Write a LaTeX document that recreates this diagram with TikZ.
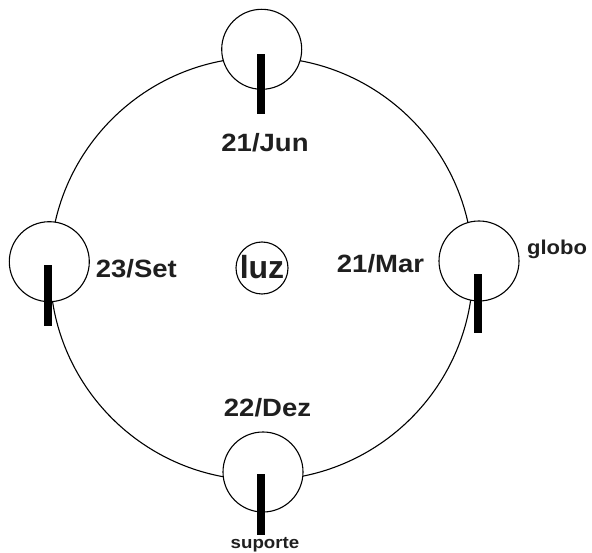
\documentclass[tikz,border=0pt]{standalone}
\usepackage{fontspec}
\setmainfont{Liberation Sans}
\begin{document}
\begin{tikzpicture}[x=1pt,y=-1pt,
  globe/.style={circle,draw=black,line width=1.1pt,fill=white,minimum size=80pt,inner sep=0pt},
  axis/.style={rectangle,fill=black,minimum width=8pt,minimum height=60pt,inner sep=0pt},
  date/.style={anchor=base,inner sep=0pt,xscale=1.1,font=\fontsize{25}{30}\selectfont\bfseries,text=black!88}
]
\fill[white] (0,0) rectangle (592,553);
\useasboundingbox (0,0) rectangle (592,553);
% orbit
\node[circle,draw=black,line width=1.1pt,minimum size=423pt,inner sep=0pt] (orbit) at (261.5,268.7) {};
% light
\node[circle,draw=black,line width=1.1pt,minimum size=52pt,inner sep=0pt] (sun) at (262,268) {};
\node[anchor=base,inner sep=0pt,font=\fontsize{32}{36}\selectfont\bfseries,text=black!88] (luz) at (262,278.3) {luz};
% globes
\node[globe] (jun) at (261.7,49.3) {};
\node[globe] (set) at (49.3,261.7) {};
\node[globe] (mar) at (479,261) {};
\node[globe] (dez) at (263,472) {};
% axes
\node[axis] (jax) at (261.2,84) {};
\node[axis,minimum height=61pt] (sax) at (47.5,295.5) {};
\node[axis,minimum height=59pt] (max) at (478.3,303.5) {};
\node[axis,minimum height=61pt] (dax) at (261.2,504.5) {};
% labels
\node[date] (ljun) at (265,151.7) {21/Jun};
\node[date] (lset) at (136.3,277.3) {23/Set};
\node[date] (lmar) at (380.5,272.7) {21/Mar};
\node[date] (ldez) at (267.5,416.7) {22/Dez};
\node[anchor=base,inner sep=0pt,xscale=1.1,font=\fontsize{20}{24}\selectfont\bfseries,text=black!88] (globo) at (557,255) {globo};
\node[anchor=base,inner sep=0pt,xscale=1.1,font=\fontsize{17}{20}\selectfont\bfseries,text=black!88] (suporte) at (265,548.3) {suporte};
\end{tikzpicture}
\end{document}
